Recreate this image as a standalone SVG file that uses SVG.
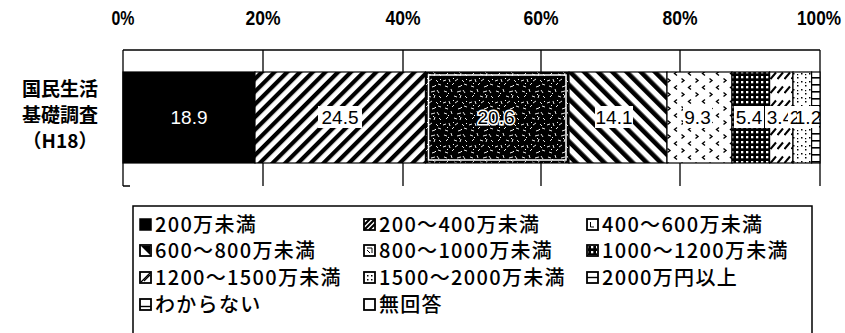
<svg xmlns="http://www.w3.org/2000/svg" width="845" height="333" viewBox="0 0 845 333">
<style>
.ax{font-family:"Liberation Sans",Arial,sans-serif;font-weight:bold;font-size:21px;text-anchor:middle;fill:#000}
.cat{font-family:"Noto Sans CJK JP","Noto Sans",sans-serif;font-weight:bold;font-size:19px;text-anchor:middle;fill:#000}
.val{font-family:"Liberation Sans",Arial,sans-serif;font-size:19px;text-anchor:middle;fill:#000}
.lg{font-family:"Noto Sans CJK JP","Noto Sans",sans-serif;font-size:20px;font-weight:500;letter-spacing:1.3px;fill:#000}
.grid{stroke:#000;stroke-width:1.3;fill:none}
.seg{stroke:#000;stroke-width:1.2}
.ic{fill:#fff;stroke:#000;stroke-width:1.8}
.lbg{fill:#fff}
</style>
<defs>
<pattern id="pFwd" patternUnits="userSpaceOnUse" width="9" height="9" patternTransform="rotate(45)">
<rect width="9" height="9" fill="#fff"/><rect x="0" y="0" width="4.2" height="9" fill="#000"/>
</pattern>
<pattern id="pBack" patternUnits="userSpaceOnUse" width="10" height="10" patternTransform="rotate(-45)">
<rect width="10" height="10" fill="#fff"/><rect x="0" y="0" width="4.6" height="10" fill="#000"/>
</pattern>
<pattern id="pNoise" patternUnits="userSpaceOnUse" width="26" height="22">
<rect width="26" height="22" fill="#000"/>
<g stroke="#fff" stroke-width="0.9" fill="none">
<path d="M2 3l3 1M9 1l1 3M15 4l4-1M21 2l2 3M4 9l2-2M12 8l3 1M18 10l1-3M23 8l2 2M1 15l3-1M7 13l1 3M13 15l3-2M20 14l2 2M3 20l3 1M10 19l2-2M16 21l3-1M22 18l3 1"/>
</g>
<g fill="#fff"><rect x="6" y="5" width="1" height="1"/><rect x="17" y="6" width="1" height="1"/><rect x="11" y="12" width="1" height="1"/><rect x="24" y="13" width="1" height="1"/><rect x="5" y="17" width="1" height="1"/><rect x="19" y="19" width="1" height="1"/></g>
</pattern>
<pattern id="pChev" patternUnits="userSpaceOnUse" width="14" height="14">
<rect width="14" height="14" fill="#fff"/>
<path d="M5 1.5L2.5 3.5L5 5.5M9.5 8.5L12 10.5L9.5 12.5" stroke="#000" stroke-width="1.4" fill="none"/>
</pattern>
<pattern id="pDots" patternUnits="userSpaceOnUse" width="5" height="5">
<rect width="5" height="5" fill="#000"/><rect x="1" y="1" width="2.3" height="2.3" fill="#fff"/>
</pattern>
<pattern id="pShort" patternUnits="userSpaceOnUse" width="7" height="14">
<rect width="7" height="14" fill="#fff"/>
<path d="M0.5 9L6 2.5" stroke="#000" stroke-width="2"/>
</pattern>
<pattern id="pSparse" patternUnits="userSpaceOnUse" width="8" height="8">
<rect width="8" height="8" fill="#fff"/>
<rect x="1" y="1" width="1.5" height="1.5" fill="#000"/><rect x="5" y="5" width="1.5" height="1.5" fill="#000"/><rect x="5" y="2" width="1.2" height="1.2" fill="#000"/>
</pattern>
<pattern id="pLadder" patternUnits="userSpaceOnUse" width="8" height="7">
<rect width="8" height="7" fill="#fff"/><rect x="0" y="0" width="8" height="1.6" fill="#000"/>
</pattern>
</defs>

<g id="axis">
<text class="ax" x="123" y="25" textLength="23" lengthAdjust="spacingAndGlyphs">0%</text>
<text class="ax" x="263" y="25" textLength="35" lengthAdjust="spacingAndGlyphs">20%</text>
<text class="ax" x="403" y="25" textLength="35" lengthAdjust="spacingAndGlyphs">40%</text>
<text class="ax" x="541" y="25" textLength="35" lengthAdjust="spacingAndGlyphs">60%</text>
<text class="ax" x="680" y="25" textLength="35" lengthAdjust="spacingAndGlyphs">80%</text>
<text class="ax" x="819" y="25" textLength="44" lengthAdjust="spacingAndGlyphs">100%</text>
<path class="grid" d="M123 50H820M123 50V186M123 186H130M263 50V186M403 50V186M541 50V186M680 50V186M820 50V186"/>
</g>

<g id="category">
<text class="cat" x="60" y="96">国民生活</text>
<text class="cat" x="60" y="122">基礎調査</text>
<text class="cat" x="60" y="148">（H18）</text>
</g>

<g id="bar">
<g id="seg1"><rect class="seg" x="123" y="72" width="132" height="91" fill="#000"/><text class="val" x="189" y="124" style="fill:#fff">18.9</text></g>
<g id="seg2"><rect class="seg" x="255" y="72" width="170.5" height="91" fill="url(#pFwd)"/><rect class="lbg" x="318" y="106" width="44" height="22"/><text class="val" x="340" y="124">24.5</text></g>
<g id="seg3"><rect class="seg" x="425.5" y="72" width="143.5" height="91" fill="url(#pNoise)"/><rect x="428.5" y="75" width="137.5" height="85" fill="none" stroke="#fff" stroke-width="1.5"/><text class="val" x="496" y="124" stroke="#fff" stroke-width="3" paint-order="stroke">20.6</text></g>
<g id="seg4"><rect class="seg" x="569" y="72" width="98" height="91" fill="url(#pBack)"/><rect class="lbg" x="595" y="106" width="38" height="22"/><text class="val" x="614" y="124">14.1</text></g>
<g id="seg5"><rect class="seg" x="667" y="72" width="65" height="91" fill="url(#pChev)"/><rect class="lbg" x="683" y="106" width="29" height="22"/><text class="val" x="697.5" y="124">9.3</text></g>
<g id="seg6"><rect class="seg" x="732" y="72" width="37.6" height="91" fill="url(#pDots)"/><rect class="lbg" x="734" y="106" width="30" height="22"/><text class="val" x="749" y="124">5.4</text></g>
<g id="seg7"><rect class="seg" x="769.6" y="72" width="23.4" height="91" fill="url(#pShort)"/><rect class="lbg" x="765" y="106" width="30" height="22"/><text class="val" x="780" y="124">3.4</text></g>
<g id="seg8"><rect class="seg" x="793" y="72" width="18.6" height="91" fill="url(#pSparse)"/><rect class="lbg" x="788" y="106" width="30" height="22"/><text class="val" x="803" y="124">2.6</text></g>
<g id="seg9"><rect class="seg" x="811.6" y="72" width="8.4" height="91" fill="url(#pLadder)"/><rect class="lbg" x="797" y="106" width="22" height="22"/><text class="val" x="808" y="124">1.2</text></g>
</g>

<g id="legend">
<path d="M133 335V206H812V335" fill="none" stroke="#000" stroke-width="1.5"/>
<g id="lg1"><rect x="140" y="219" width="11" height="11" fill="#000" stroke="#000" stroke-width="1.5"/><text class="lg" x="155" y="232">200万未満</text></g>
<g id="lg2"><rect class="ic" x="364" y="219" width="11" height="11"/><path d="M364 230L375 219M364 225L370 219M369 230L375 224" stroke="#000" stroke-width="2.2"/><text class="lg" x="379" y="232">200～400万未満</text></g>
<g id="lg3"><rect class="ic" x="587" y="219" width="11" height="11"/><path d="M590.5 222V227H594" stroke="#000" stroke-width="1" fill="none"/><text class="lg" x="602" y="232">400～600万未満</text></g>
<g id="lg4"><rect class="ic" x="140" y="245" width="11" height="11"/><path d="M141 246L150 246L150 255Z" fill="#000"/><text class="lg" x="155" y="258">600～800万未満</text></g>
<g id="lg5"><rect class="ic" x="364" y="245" width="11" height="11"/><path d="M367 248H372V253M367 250L370 253" stroke="#000" stroke-width="1" fill="none"/><text class="lg" x="379" y="258">800～1000万未満</text></g>
<g id="lg6"><rect class="ic" x="587" y="245" width="11" height="11"/><rect x="588" y="246" width="9" height="9" fill="url(#pDots)"/><text class="lg" x="602" y="258">1000～1200万未満</text></g>
<g id="lg7"><rect class="ic" x="140" y="272" width="11" height="11"/><path d="M141 282L150 273M144 281L150 275" stroke="#000" stroke-width="1.2"/><text class="lg" x="155" y="285">1200～1500万未満</text></g>
<g id="lg8"><rect class="ic" x="364" y="272" width="11" height="11"/><path d="M367 275h1.5v1.5h-1.5zM371 279h1.5v1.5h-1.5zM371 275h1.5v1.5h-1.5zM367 279h1.5v1.5h-1.5z" fill="#000"/><text class="lg" x="379" y="285">1500～2000万未満</text></g>
<g id="lg9"><rect class="ic" x="587" y="272" width="11" height="11"/><path d="M587 277.5H598" stroke="#000" stroke-width="1.4"/><text class="lg" x="602" y="285">2000万円以上</text></g>
<g id="lg10"><rect class="ic" x="140" y="299" width="11" height="11"/><path d="M140 306.5H151" stroke="#000" stroke-width="1.4"/><text class="lg" x="155" y="312">わからない</text></g>
<g id="lg11"><rect class="ic" x="364" y="299" width="11" height="11"/><text class="lg" x="379" y="312">無回答</text></g>
</g>
</svg>
